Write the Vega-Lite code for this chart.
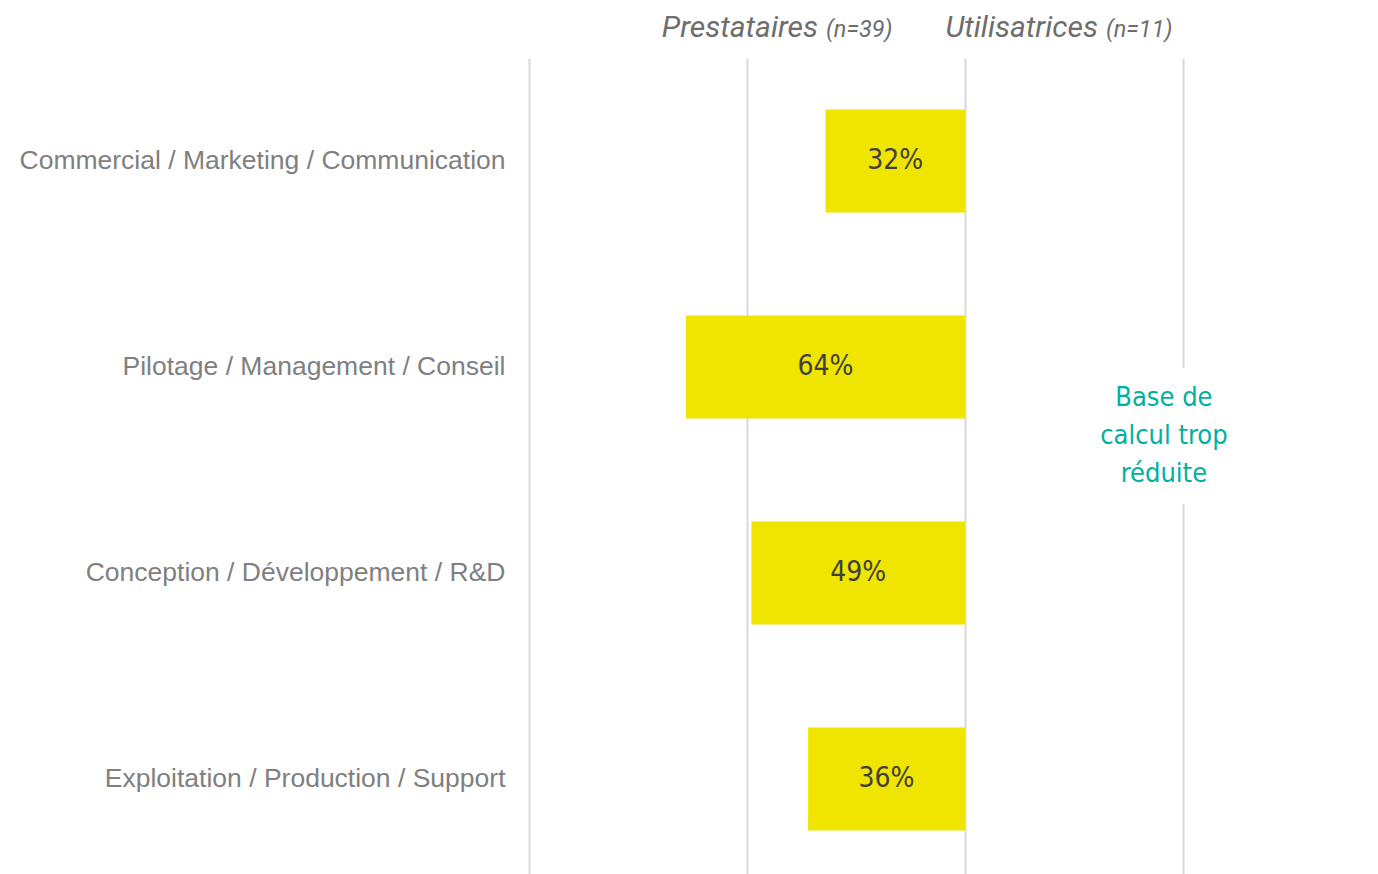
{
  "$schema": "https://vega.github.io/schema/vega-lite/v6.json",
  "autosize": {"type": "none"},
  "padding": {"left": 529, "top": 58, "right": 0, "bottom": 0},
  "width": 849,
  "height": 824,
  "background": "white",
  "config": {"view": {"stroke": null}},
  "datasets": {
    "bars": [
      {"cat": "Commercial / Marketing / Communication", "v": -0.32, "lbl": "32%"},
      {"cat": "Pilotage / Management / Conseil", "v": -0.64, "lbl": "64%"},
      {"cat": "Conception / Développement / R&D", "v": -0.49, "lbl": "49%"},
      {"cat": "Exploitation / Production / Support", "v": -0.36, "lbl": "36%"}
    ],
    "headers": [
      {"cat": "Commercial / Marketing / Communication", "x": -0.328, "main": "Prestataires", "n": "(n=39)"},
      {"cat": "Commercial / Marketing / Communication", "x": 0.314, "main": "Utilisatrices", "n": "(n=11)"}
    ],
    "note": [
      {"cat": "Pilotage / Management / Conseil", "x": 0.456, "x1": 0.4, "x2": 0.6, "t": "Base de|calcul trop|réduite"}
    ]
  },
  "layer": [
    {
      "data": {"name": "bars"},
      "mark": {"type": "bar", "color": "#F0E500"},
      "encoding": {
        "y": {
          "field": "cat", "type": "nominal",
          "sort": ["Commercial / Marketing / Communication", "Pilotage / Management / Conseil", "Conception / Développement / R&D", "Exploitation / Production / Support"],
          "scale": {"domain": ["Commercial / Marketing / Communication", "Pilotage / Management / Conseil", "Conception / Développement / R&D", "Exploitation / Production / Support"], "paddingInner": 0.5, "paddingOuter": 0.25},
          "axis": {"title": null, "domain": false, "ticks": false, "labelFont": "Liberation Sans", "labelFontSize": 26.5, "labelColor": "#808080", "labelPadding": 24, "labelLimit": 600}
        },
        "x": {
          "field": "v", "type": "quantitative",
          "scale": {"domain": [-1, 0.947], "nice": false, "zero": false},
          "axis": {"title": null, "labels": false, "ticks": false, "domain": false, "values": [-1, -0.5, 0, 0.5], "grid": true, "gridColor": "#d9d9d9", "gridWidth": 2}
        },
        "x2": {"datum": 0}
      }
    },
    {
      "data": {"name": "bars"},
      "transform": [{"calculate": "datum.v / 2", "as": "mid"}],
      "mark": {"type": "text", "font": "DejaVu Sans Condensed", "fontSize": 28, "color": "#404040", "baseline": "middle", "align": "center"},
      "encoding": {
        "y": {"field": "cat", "type": "nominal", "sort": ["Commercial / Marketing / Communication", "Pilotage / Management / Conseil", "Conception / Développement / R&D", "Exploitation / Production / Support"]},
        "x": {"field": "mid", "type": "quantitative"},
        "text": {"field": "lbl"}
      }
    },
    {
      "data": {"name": "note"},
      "mark": {"type": "rect", "color": "white", "height": 136, "yOffset": 69},
      "encoding": {
        "y": {"field": "cat", "type": "nominal", "sort": ["Commercial / Marketing / Communication", "Pilotage / Management / Conseil", "Conception / Développement / R&D", "Exploitation / Production / Support"]},
        "x": {"field": "x1", "type": "quantitative"},
        "x2": {"field": "x2"}
      }
    },
    {
      "data": {"name": "note"},
      "mark": {"type": "text", "font": "DejaVu Sans Condensed", "fontSize": 27, "color": "#00B0A0", "baseline": "middle", "align": "center", "lineBreak": "|", "lineHeight": 38, "yOffset": 31},
      "encoding": {
        "y": {"field": "cat", "type": "nominal", "sort": ["Commercial / Marketing / Communication", "Pilotage / Management / Conseil", "Conception / Développement / R&D", "Exploitation / Production / Support"]},
        "x": {"field": "x", "type": "quantitative"},
        "text": {"field": "t"}
      }
    },
    {
      "data": {"name": "headers"},
      "mark": {"type": "text", "font": "Roboto", "fontStyle": "italic", "fontSize": 30, "color": "#6d6d6d", "baseline": "alphabetic", "align": "right", "dx": -4, "yOffset": -124},
      "encoding": {
        "y": {"field": "cat", "type": "nominal", "sort": ["Commercial / Marketing / Communication", "Pilotage / Management / Conseil", "Conception / Développement / R&D", "Exploitation / Production / Support"]},
        "x": {"field": "x", "type": "quantitative"},
        "text": {"field": "main"}
      }
    },
    {
      "data": {"name": "headers"},
      "mark": {"type": "text", "font": "Roboto", "fontStyle": "italic", "fontSize": 23.5, "color": "#6d6d6d", "baseline": "alphabetic", "align": "left", "dx": 4, "yOffset": -124},
      "encoding": {
        "y": {"field": "cat", "type": "nominal", "sort": ["Commercial / Marketing / Communication", "Pilotage / Management / Conseil", "Conception / Développement / R&D", "Exploitation / Production / Support"]},
        "x": {"field": "x", "type": "quantitative"},
        "text": {"field": "n"}
      }
    }
  ]
}
